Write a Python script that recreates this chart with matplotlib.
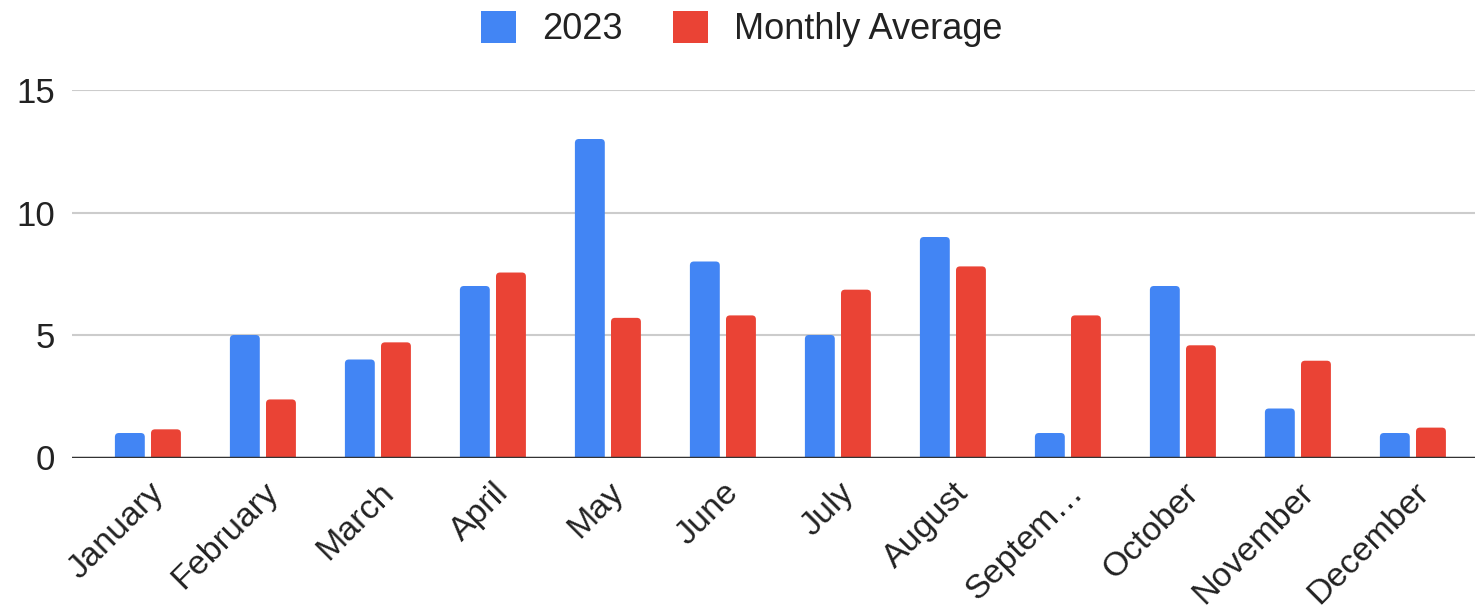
import matplotlib
matplotlib.use("Agg")
import matplotlib.pyplot as plt
from matplotlib.patches import FancyBboxPatch, Patch
import numpy as np

months = ["January", "February", "March", "April", "May", "June", "July",
          "August", "Septem\u2026", "October", "November", "December"]
values_2023 = [1, 5, 4, 7, 13, 8, 5, 9, 1, 7, 2, 1]
monthly_avg = [1.15, 2.37, 4.7, 7.55, 5.7, 5.8, 6.85, 7.8, 5.8, 4.58, 3.95, 1.22]
yticks = [0, 5, 10, 15]

BLUE = "#4285F4"
RED = "#EA4335"

plt.rcParams['font.family'] = ['Liberation Sans', 'DejaVu Sans']

fig = plt.figure(figsize=(14.75, 6.16), dpi=100)
ax = fig.add_axes([72/1475, (616-457.5)/616, (1475-72)/1475, (457.5-90)/616])

x = np.arange(len(months))
w = 0.26
off = 0.157
b1 = ax.bar(x - off, values_2023, w, color=BLUE, label="2023", zorder=3)
b2 = ax.bar(x + off, monthly_avg, w, color=RED, label="Monthly Average", zorder=3)

ax.set_xlim(-0.66, 11.54)
ax.set_ylim(0, 15)

# rounded top corners: replace rectangles with rounded boxes extending below 0
px_x = (11.54 + 0.66) / (1475 - 72)
px_y = 15 / (457.5 - 90)
r = 4 * px_x
for cont in (b1, b2):
    for p in cont.patches:
        x0, y0 = p.get_x(), p.get_y()
        wd, ht = p.get_width(), p.get_height()
        p.set_visible(False)
        fb = FancyBboxPatch((x0, y0 - 0.3), wd, ht + 0.3,
                            boxstyle=f"round,pad=0,rounding_size={r}",
                            mutation_aspect=px_y / px_x,
                            facecolor=p.get_facecolor(), edgecolor='none',
                            zorder=3, clip_on=True)
        ax.add_patch(fb)

ax.set_yticks(yticks)
ax.set_yticklabels([str(v) for v in yticks], fontsize=25, color="#222222")
ax.yaxis.grid(True, color="#cccccc", linewidth=1.5, zorder=0)
ax.axhline(0, color="#333333", linewidth=2.5, zorder=4)
for s in ax.spines.values():
    s.set_visible(False)
ax.tick_params(axis='y', length=0, pad=12)
ax.tick_params(axis='x', length=0, pad=14)
ax.set_xticks(x)
ax.set_xticklabels(months, rotation=45, ha='right', rotation_mode='anchor',
                   fontsize=24.5, color="#222222")

handles = [Patch(facecolor=BLUE, edgecolor='none', label="2023"),
           Patch(facecolor=RED, edgecolor='none', label="Monthly Average")]
leg = fig.legend(handles=handles, loc='upper center', bbox_to_anchor=(0.503, 1.035), ncol=2,
                 frameon=False, fontsize=26, handlelength=0.97, handleheight=0.97,
                 columnspacing=1.4, handletextpad=0.72)
for t in leg.get_texts():
    t.set_color("#222222")

fig.savefig("out.png", dpi=100, facecolor="white")
